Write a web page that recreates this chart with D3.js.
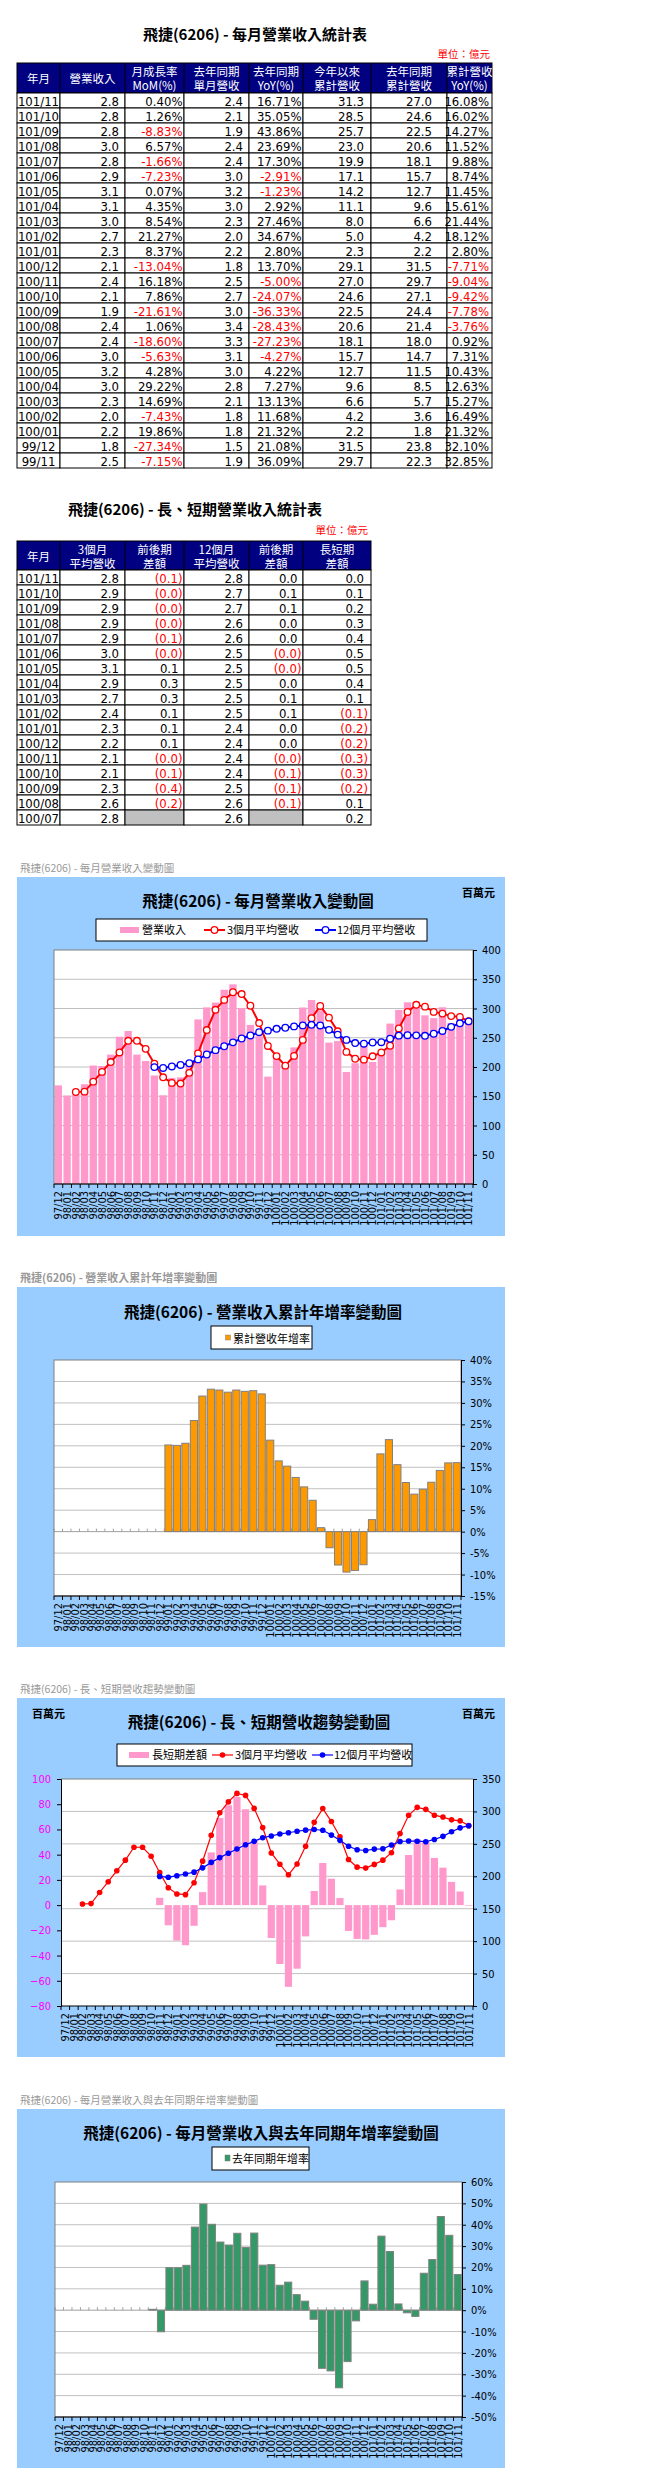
<!DOCTYPE html>
<html>
<head>
<meta charset="utf-8">
<script src="https://cdn.jsdelivr.net/npm/d3@7"></script>
<style>body{margin:0;background:#fff}</style>
</head>
<body>
<script>
// ---------- table 1 : 每月營業收入統計表 (億元)
var t1Month = ["101/11","101/10","101/09","101/08","101/07","101/06","101/05","101/04","101/03","101/02","101/01","100/12","100/11","100/10","100/09","100/08","100/07","100/06","100/05","100/04","100/03","100/02","100/01","99/12","99/11"];
var t1Rev = [2.8,2.8,2.8,3.0,2.8,2.9,3.1,3.1,3.0,2.7,2.3,2.1,2.4,2.1,1.9,2.4,2.4,3.0,3.2,3.0,2.3,2.0,2.2,1.8,2.5];
var t1Mom = [0.40,1.26,-8.83,6.57,-1.66,-7.23,0.07,4.35,8.54,21.27,8.37,-13.04,16.18,7.86,-21.61,1.06,-18.60,-5.63,4.28,29.22,14.69,-7.43,19.86,-27.34,-7.15];
var t1LyRev = [2.4,2.1,1.9,2.4,2.4,3.0,3.2,3.0,2.3,2.0,2.2,1.8,2.5,2.7,3.0,3.4,3.3,3.1,3.0,2.8,2.1,1.8,1.8,1.5,1.9];
var t1Yoy = [16.71,35.05,43.86,23.69,17.30,-2.91,-1.23,2.92,27.46,34.67,2.80,13.70,-5.00,-24.07,-36.33,-28.43,-27.23,-4.27,4.22,7.27,13.13,11.68,21.32,21.08,36.09];
var t1Cum = [31.3,28.5,25.7,23.0,19.9,17.1,14.2,11.1,8.0,5.0,2.3,29.1,27.0,24.6,22.5,20.6,18.1,15.7,12.7,9.6,6.6,4.2,2.2,31.5,29.7];
var t1LyCum = [27.0,24.6,22.5,20.6,18.1,15.7,12.7,9.6,6.6,4.2,2.2,31.5,29.7,27.1,24.4,21.4,18.0,14.7,11.5,8.5,5.7,3.6,1.8,23.8,22.3];
var t1CumYoy = [16.08,16.02,14.27,11.52,9.88,8.74,11.45,15.61,21.44,18.12,2.80,-7.71,-9.04,-9.42,-7.78,-3.76,0.92,7.31,10.43,12.63,15.27,16.49,21.32,32.10,32.85];

// ---------- table 2 : 長、短期營業收入統計表 (億元)
var t2Month = ["101/11","101/10","101/09","101/08","101/07","101/06","101/05","101/04","101/03","101/02","101/01","100/12","100/11","100/10","100/09","100/08","100/07"];
var t2Avg3 = [2.8,2.9,2.9,2.9,2.9,3.0,3.1,2.9,2.7,2.4,2.3,2.2,2.1,2.1,2.3,2.6,2.8];
var t2Avg3Diff = [-0.07,-0.01,-0.04,-0.03,-0.09,-0.03,0.12,0.28,0.30,0.11,0.07,0.06,-0.01,-0.12,-0.36,-0.23,null];
var t2Avg12 = [2.8,2.7,2.7,2.6,2.6,2.5,2.5,2.5,2.5,2.5,2.4,2.4,2.4,2.4,2.5,2.6,2.6];
var t2Avg12Diff = [0.03,0.06,0.07,0.04,0.03,-0.01,-0.01,0.01,0.06,0.06,0.01,0.02,-0.01,-0.06,-0.09,-0.08,null];
var t2LongShort = [0.00,0.11,0.18,0.30,0.37,0.50,0.52,0.40,0.12,-0.12,-0.18,-0.24,-0.27,-0.27,-0.21,0.06,0.21];

// ---------- chart series (百萬元 / %)
var months = ["97/12","98/01","98/02","98/03","98/04","98/05","98/06","98/07","98/08","98/09","98/10","98/11","98/12","99/01","99/02","99/03","99/04","99/05","99/06","99/07","99/08","99/09","99/10","99/11","99/12","100/01","100/02","100/03","100/04","100/05","100/06","100/07","100/08","100/09","100/10","100/11","100/12","101/01","101/02","101/03","101/04","101/05","101/06","101/07","101/08","101/09","101/10","101/11"];
var revenue = [168.6,151.2,152.0,170.6,202.5,201.7,221.2,251.8,261.5,221.2,210.2,185.5,151.6,181.3,182.3,206.4,281.3,301.9,310.1,332.1,341.3,300.8,272.0,252.5,183.5,219.9,203.6,233.5,301.7,314.6,296.9,241.7,244.3,191.5,206.5,239.9,208.6,226.1,274.2,297.6,310.6,310.8,288.3,283.5,302.1,275.4,278.9,280.0];
var avg3 = [null,null,157.3,157.9,175.0,191.6,208.5,224.9,244.8,244.8,231.0,205.6,182.4,172.8,171.7,190.0,223.3,263.2,297.8,314.7,327.8,324.7,304.7,275.1,236.0,218.6,202.3,219.0,246.3,283.3,304.4,284.4,261.0,225.8,214.1,212.6,218.3,224.9,236.3,266.0,294.1,306.3,303.2,294.2,291.3,287.0,285.5,278.1];
var avg12 = [null,null,null,null,null,null,null,null,null,null,null,199.8,198.4,200.9,203.5,206.4,213.0,221.4,228.8,235.5,242.1,248.7,253.9,259.5,262.1,265.3,267.1,269.4,271.1,272.1,271.0,263.5,255.4,246.3,240.9,239.8,241.9,242.4,248.3,253.6,254.4,254.1,253.3,256.8,261.6,268.6,274.7,278.0];
var gapLS = [null,null,null,null,null,null,null,null,null,null,null,5.8,-16.0,-28.1,-31.8,-16.4,10.3,41.8,69.0,79.2,85.7,76.0,50.8,15.6,-26.1,-46.7,-64.8,-50.4,-24.8,11.2,33.4,20.9,5.6,-20.5,-26.8,-27.2,-23.6,-17.5,-12.0,12.4,39.7,52.2,49.9,37.4,29.7,18.4,10.8,0.1];
var cumYoy = [null,null,null,null,null,null,null,null,null,null,null,null,null,20.2,20.1,20.6,25.9,31.6,33.2,33.0,32.5,33.0,32.7,32.85,32.10,21.32,16.49,15.27,12.63,10.43,7.31,0.92,-3.76,-7.78,-9.42,-9.04,-7.71,2.80,18.12,21.44,15.61,11.45,8.74,9.88,11.52,14.27,16.02,16.08];
var yoy = [null,null,null,null,null,null,null,null,null,null,null,0.4,-10.1,19.9,19.9,21.0,38.9,49.7,40.2,31.9,30.5,36.0,29.4,36.09,21.08,21.32,11.68,13.13,7.27,4.22,-4.27,-27.23,-28.43,-36.33,-24.07,-5.00,13.70,2.80,34.67,27.46,2.92,-1.23,-2.91,17.30,23.69,43.86,35.05,16.71];

var NUM = "'Liberation Sans Narrow','DejaVu Sans Condensed','Liberation Sans',sans-serif";
var CJK = "'Noto Sans CJK TC',sans-serif";
var MIX = "'Liberation Sans Narrow','Noto Sans CJK TC',sans-serif";

var svg = d3.select("body").append("svg")
    .attr("width", 655)
    .attr("height", 2491)
    .style("display", "block");

function label(g, x, y, s, size, anchor, weight, color, family) {
  return g.append("text")
      .attr("x", x).attr("y", y)
      .attr("text-anchor", anchor || "start")
      .attr("font-size", size)
      .attr("font-weight", weight || "normal")
      .attr("fill", color || "#000")
      .attr("font-family", family || MIX)
      .text(s);
}

function fmtNum(v) { return v.toFixed(1); }
function fmtPct(v) { return v.toFixed(2) + "%"; }
function fmtAcc(v) { return v < 0 ? "(" + Math.abs(v).toFixed(1) + ")" : v.toFixed(1); }

// generic table: edges = column borders, cols = column settings
function drawTable(top, headH, edges, heads, cols) {
  var g = svg.append("g");
  var left = edges[0], right = edges[edges.length - 1];
  g.append("rect")
      .attr("x", left).attr("y", top)
      .attr("width", right - left).attr("height", headH)
      .attr("fill", "#000080").attr("stroke", "#000");
  heads.forEach(function(h, i) {
    var cx = (edges[i] + edges[i + 1]) / 2;
    if (h.length == 1) {
      label(g, cx, top + 20, h[0], 11.5, "middle", "normal", "#fff", CJK);
    } else {
      label(g, cx, top + 12.5, h[0], 11.5, "middle", "normal", "#fff", CJK);
      label(g, cx, top + 27, h[1], 11.5, "middle", "normal", "#fff", CJK);
    }
    if (i > 0) {
      g.append("line").attr("x1", edges[i]).attr("x2", edges[i])
          .attr("y1", top).attr("y2", top + headH).attr("stroke", "#000");
    }
  });
  var y0 = top + headH;
  cols.forEach(function(col, ci) {
    var xa = edges[ci], xb = edges[ci + 1];
    g.selectAll(null).data(col.vals).enter().append("rect")
        .attr("x", xa)
        .attr("y", function(d, i) { return y0 + i * 15; })
        .attr("width", xb - xa).attr("height", 15)
        .attr("fill", function(d) { return d === null ? "#c0c0c0" : "#fff"; })
        .attr("stroke", "#000");
    g.selectAll(null).data(col.vals).enter().append("text")
        .attr("x", function(d) {
          if (col.center) return (xa + xb) / 2;
          return xb - (d < 0 && col.padNeg != null ? col.padNeg : col.pad);
        })
        .attr("y", function(d, i) { return y0 + i * 15 + 12.5; })
        .attr("text-anchor", col.center ? "middle" : "end")
        .attr("font-size", 13)
        .attr("font-family", NUM)
        .attr("fill", function(d) { return col.red && d < 0 ? "#ff0000" : "#000"; })
        .text(function(d) { return d === null ? "" : (col.fmt ? col.fmt(d) : d); });
  });
}

// ---- table 1
label(svg, 255, 40, "飛捷(6206) - 每月營業收入統計表", 15, "middle", "bold", "#000", CJK);
label(svg, 490, 58, "單位：億元", 10.5, "end", "normal", "#ff0000", CJK);
drawTable(63, 30, [17, 60, 125, 184, 249, 303, 371, 447, 492],
  [["年月"], ["營業收入"], ["月成長率", "MoM(%)"], ["去年同期", "單月營收"], ["去年同期", "YoY(%)"], ["今年以來", "累計營收"], ["去年同期", "累計營收"], ["累計營收", "YoY(%)"]],
  [{vals: t1Month, center: true},
   {vals: t1Rev, fmt: fmtNum, pad: 6},
   {vals: t1Mom, fmt: fmtPct, pad: 1.5, red: true},
   {vals: t1LyRev, fmt: fmtNum, pad: 6},
   {vals: t1Yoy, fmt: fmtPct, pad: 1.5, red: true},
   {vals: t1Cum, fmt: fmtNum, pad: 7},
   {vals: t1LyCum, fmt: fmtNum, pad: 15},
   {vals: t1CumYoy, fmt: fmtPct, pad: 3, red: true}]);

// ---- table 2
label(svg, 195, 515, "飛捷(6206) - 長、短期營業收入統計表", 15, "middle", "bold", "#000", CJK);
label(svg, 368, 534, "單位：億元", 10.5, "end", "normal", "#ff0000", CJK);
drawTable(541, 29, [17, 60, 125, 184, 249, 303, 371],
  [["年月"], ["3個月", "平均營收"], ["前後期", "差額"], ["12個月", "平均營收"], ["前後期", "差額"], ["長短期", "差額"]],
  [{vals: t2Month, center: true},
   {vals: t2Avg3, fmt: fmtNum, pad: 6},
   {vals: t2Avg3Diff, fmt: fmtAcc, pad: 5.5, padNeg: 1.5, red: true},
   {vals: t2Avg12, fmt: fmtNum, pad: 6},
   {vals: t2Avg12Diff, fmt: fmtAcc, pad: 5.5, padNeg: 1.5, red: true},
   {vals: t2LongShort, fmt: fmtAcc, pad: 7, padNeg: 3, red: true}]);

// ---------- chart helpers
function panel(y0, y1, caption, bold) {
  label(svg, 20, y0 - 5, caption, bold ? 11 : 10.5, "start", bold ? "bold" : "normal", "#999", CJK);
  svg.append("rect").attr("x", 17).attr("y", y0).attr("width", 488).attr("height", y1 - y0).attr("fill", "#99ccff");
  return svg.append("g");
}

function xScale(a, b) {
  return d3.scaleBand().domain(months).range([a, b]).paddingInner(0.16).paddingOuter(0.08);
}

function grid(g, x, y, vals) {
  g.selectAll(null).data(vals).enter().append("line")
      .attr("x1", x.range()[0]).attr("x2", x.range()[1])
      .attr("y1", function(d) { return y(d); }).attr("y2", function(d) { return y(d); })
      .attr("stroke", "#c0c0c0");
}

function bottomAxis(g, x, yb, tickDir) {
  var a = x.range()[0], b = x.range()[1], st = x.step();
  g.append("line").attr("x1", a).attr("x2", b).attr("y1", yb).attr("y2", yb).attr("stroke", "#000");
  g.selectAll(null).data(d3.range(months.length + 1)).enter().append("line")
      .attr("x1", function(i) { return a + i * st; }).attr("x2", function(i) { return a + i * st; })
      .attr("y1", yb).attr("y2", yb + 4).attr("stroke", "#000");
  g.selectAll(null).data(months).enter().append("text")
      .attr("transform", function(d) { return "translate(" + (x(d) + x.bandwidth() / 2) + "," + (yb + 7) + ") rotate(-90)"; })
      .attr("text-anchor", "end")
      .attr("dy", "0.35em")
      .attr("font-size", 11)
      .attr("font-family", NUM)
      .text(function(d) { return d; });
}

function zeroAxis(g, x, y0) {
  var a = x.range()[0], b = x.range()[1], st = x.step();
  g.append("line").attr("x1", a).attr("x2", b).attr("y1", y0).attr("y2", y0).attr("stroke", "#a0a0a0");
  g.selectAll(null).data(d3.range(months.length + 1)).enter().append("line")
      .attr("x1", function(i) { return a + i * st; }).attr("x2", function(i) { return a + i * st; })
      .attr("y1", y0 - 3).attr("y2", y0).attr("stroke", "#a0a0a0");
}

function styleAxis(ax, color) {
  ax.selectAll("text").attr("font-size", 11).attr("font-family", NUM).attr("fill", color || "#000");
  ax.selectAll("line,path").attr("stroke", "#000");
}

function pts(arr) {
  return arr.map(function(v, i) { return {m: months[i], v: v}; }).filter(function(d) { return d.v !== null; });
}

// ---------- chart 1 : 每月營業收入變動圖
var g1 = panel(877, 1236, "飛捷(6206) - 每月營業收入變動圖", false);
var x1 = xScale(54, 473);
var y1 = d3.scaleLinear().domain([0, 400]).range([1184, 950]);
label(g1, 258, 907, "飛捷(6206) - 每月營業收入變動圖", 15.5, "middle", "bold", "#000", CJK);
label(g1, 495, 897, "百萬元", 11, "end", "bold", "#000", CJK);
g1.append("rect").attr("x", 54).attr("y", 950).attr("width", 419).attr("height", 234).attr("fill", "#fff");
grid(g1, x1, y1, [50, 100, 150, 200, 250, 300, 350]);
g1.selectAll(null).data(pts(revenue)).enter().append("rect")
    .attr("x", function(d) { return x1(d.m); })
    .attr("y", function(d) { return y1(d.v); })
    .attr("width", x1.bandwidth())
    .attr("height", function(d) { return y1(0) - y1(d.v); })
    .attr("fill", "#ff99cc");
[[avg3, "#ff0000"], [avg12, "#0000ff"]].forEach(function(s) {
  var line = d3.line()
      .x(function(d) { return x1(d.m) + x1.bandwidth() / 2; })
      .y(function(d) { return y1(d.v); });
  g1.append("path").datum(pts(s[0])).attr("d", line).attr("fill", "none").attr("stroke", s[1]).attr("stroke-width", 2);
  g1.selectAll(null).data(pts(s[0])).enter().append("circle")
      .attr("cx", function(d) { return x1(d.m) + x1.bandwidth() / 2; })
      .attr("cy", function(d) { return y1(d.v); })
      .attr("r", 3.3).attr("fill", "#fff").attr("stroke", s[1]).attr("stroke-width", 1.3);
});
g1.append("rect").attr("x", 54).attr("y", 950).attr("width", 419).attr("height", 234).attr("fill", "none").attr("stroke", "#808080");
styleAxis(g1.append("g").attr("transform", "translate(473,0)")
    .call(d3.axisRight(y1).tickValues(d3.range(0, 401, 50)).tickSize(4).tickPadding(5)));
bottomAxis(g1, x1, 1184);
// legend
g1.append("rect").attr("x", 96).attr("y", 919).attr("width", 331).attr("height", 22).attr("fill", "#fff").attr("stroke", "#000");
g1.append("rect").attr("x", 120).attr("y", 927).attr("width", 19).attr("height", 6).attr("fill", "#ff99cc");
label(g1, 142, 934, "營業收入", 11, "start", "normal", "#000", MIX);
g1.append("line").attr("x1", 204).attr("x2", 225).attr("y1", 930).attr("y2", 930).attr("stroke", "#ff0000").attr("stroke-width", 2);
g1.append("circle").attr("cx", 214.5).attr("cy", 930).attr("r", 3.3).attr("fill", "#fff").attr("stroke", "#ff0000").attr("stroke-width", 1.3);
label(g1, 227, 934, "3個月平均營收", 11, "start", "normal", "#000", MIX);
g1.append("line").attr("x1", 315).attr("x2", 336).attr("y1", 930).attr("y2", 930).attr("stroke", "#0000ff").attr("stroke-width", 2);
g1.append("circle").attr("cx", 325.5).attr("cy", 930).attr("r", 3.3).attr("fill", "#fff").attr("stroke", "#0000ff").attr("stroke-width", 1.3);
label(g1, 337, 934, "12個月平均營收", 11, "start", "normal", "#000", MIX);

// ---------- chart 2 : 營業收入累計年增率變動圖
var g2 = panel(1287, 1647, "飛捷(6206) -  營業收入累計年增率變動圖", true);
var x2 = xScale(54, 461);
var y2 = d3.scaleLinear().domain([-15, 40]).range([1596, 1360]);
label(g2, 263, 1318, "飛捷(6206) -  營業收入累計年增率變動圖", 15.5, "middle", "bold", "#000", CJK);
g2.append("rect").attr("x", 54).attr("y", 1360).attr("width", 407).attr("height", 236).attr("fill", "#fff");
grid(g2, x2, y2, [-10, -5, 5, 10, 15, 20, 25, 30, 35]);
zeroAxis(g2, x2, y2(0));
g2.selectAll(null).data(pts(cumYoy)).enter().append("rect")
    .attr("x", function(d) { return x2(d.m); })
    .attr("y", function(d) { return y2(Math.max(0, d.v)); })
    .attr("width", x2.bandwidth())
    .attr("height", function(d) { return Math.abs(y2(d.v) - y2(0)); })
    .attr("fill", "#ff9900").attr("stroke", "#808080");
g2.append("rect").attr("x", 54).attr("y", 1360).attr("width", 407).attr("height", 236).attr("fill", "none").attr("stroke", "#808080");
styleAxis(g2.append("g").attr("transform", "translate(461,0)")
    .call(d3.axisRight(y2).tickValues(d3.range(-15, 41, 5)).tickSize(4).tickPadding(5).tickFormat(function(d) { return d + "%"; })));
bottomAxis(g2, x2, 1596);
g2.append("rect").attr("x", 211).attr("y", 1326).attr("width", 101).attr("height", 23).attr("fill", "#fff").attr("stroke", "#000");
g2.append("rect").attr("x", 225.5).attr("y", 1335).attr("width", 5).attr("height", 5).attr("fill", "#ff9900").attr("stroke", "#808080").attr("stroke-width", 0.5);
label(g2, 233, 1343, "累計營收年增率", 11, "start", "normal", "#000", MIX);

// ---------- chart 3 : 長、短期營收趨勢變動圖
var g3 = panel(1698, 2057, "飛捷(6206) -  長、短期營收趨勢變動圖", false);
var x3 = xScale(61, 473);
var yL = d3.scaleLinear().domain([-80, 100]).range([2006, 1779]);
var yR = d3.scaleLinear().domain([0, 350]).range([2006, 1779]);
label(g3, 259, 1728, "飛捷(6206) -  長、短期營收趨勢變動圖", 15.5, "middle", "bold", "#000", CJK);
label(g3, 32, 1718, "百萬元", 11, "start", "bold", "#000", CJK);
label(g3, 495, 1718, "百萬元", 11, "end", "bold", "#000", CJK);
g3.append("rect").attr("x", 61).attr("y", 1779).attr("width", 412).attr("height", 227).attr("fill", "#fff");
grid(g3, x3, yR, [50, 100, 150, 200, 250, 300]);
g3.selectAll(null).data(pts(gapLS)).enter().append("rect")
    .attr("x", function(d) { return x3(d.m); })
    .attr("y", function(d) { return yL(Math.max(0, d.v)); })
    .attr("width", x3.bandwidth())
    .attr("height", function(d) { return Math.max(0.6, Math.abs(yL(d.v) - yL(0))); })
    .attr("fill", "#ff99cc");
[[avg3, "#ff0000"], [avg12, "#0000ff"]].forEach(function(s) {
  var line = d3.line()
      .x(function(d) { return x3(d.m) + x3.bandwidth() / 2; })
      .y(function(d) { return yR(d.v); });
  g3.append("path").datum(pts(s[0])).attr("d", line).attr("fill", "none").attr("stroke", s[1]).attr("stroke-width", 1.2);
  g3.selectAll(null).data(pts(s[0])).enter().append("circle")
      .attr("cx", function(d) { return x3(d.m) + x3.bandwidth() / 2; })
      .attr("cy", function(d) { return yR(d.v); })
      .attr("r", 2.8).attr("fill", s[1]);
});
g3.append("line").attr("x1", 61).attr("x2", 473).attr("y1", 1779).attr("y2", 1779).attr("stroke", "#808080");
styleAxis(g3.append("g").attr("transform", "translate(61,0)")
    .call(d3.axisLeft(yL).tickValues(d3.range(-80, 101, 20)).tickSize(4).tickPadding(6)), "#ff00ff");
styleAxis(g3.append("g").attr("transform", "translate(473,0)")
    .call(d3.axisRight(yR).tickValues(d3.range(0, 351, 50)).tickSize(4).tickPadding(5)));
bottomAxis(g3, x3, 2006);
g3.append("rect").attr("x", 117).attr("y", 1744).attr("width", 295).attr("height", 22).attr("fill", "#fff").attr("stroke", "#000");
g3.append("rect").attr("x", 129).attr("y", 1752).attr("width", 20).attr("height", 6).attr("fill", "#ff99cc");
label(g3, 152, 1759, "長短期差額", 11, "start", "normal", "#000", MIX);
g3.append("line").attr("x1", 212).attr("x2", 233).attr("y1", 1755).attr("y2", 1755).attr("stroke", "#ff0000").attr("stroke-width", 1.2);
g3.append("circle").attr("cx", 222.5).attr("cy", 1755).attr("r", 2.8).attr("fill", "#ff0000");
label(g3, 235, 1759, "3個月平均營收", 11, "start", "normal", "#000", MIX);
g3.append("line").attr("x1", 312).attr("x2", 333).attr("y1", 1755).attr("y2", 1755).attr("stroke", "#0000ff").attr("stroke-width", 1.2);
g3.append("circle").attr("cx", 322.5).attr("cy", 1755).attr("r", 2.8).attr("fill", "#0000ff");
label(g3, 334, 1759, "12個月平均營收", 11, "start", "normal", "#000", MIX);

// ---------- chart 4 : 每月營業收入與去年同期年增率變動圖
var g4 = panel(2109, 2468, "飛捷(6206) -  每月營業收入與去年同期年增率變動圖", false);
var x4 = xScale(55, 462);
var y4 = d3.scaleLinear().domain([-50, 60]).range([2417, 2182]);
label(g4, 261, 2139, "飛捷(6206) -  每月營業收入與去年同期年增率變動圖", 15.5, "middle", "bold", "#000", CJK);
g4.append("rect").attr("x", 55).attr("y", 2182).attr("width", 407).attr("height", 235).attr("fill", "#fff");
grid(g4, x4, y4, [-40, -30, -20, -10, 10, 20, 30, 40, 50]);
zeroAxis(g4, x4, y4(0));
g4.selectAll(null).data(pts(yoy)).enter().append("rect")
    .attr("x", function(d) { return x4(d.m); })
    .attr("y", function(d) { return y4(Math.max(0, d.v)); })
    .attr("width", x4.bandwidth())
    .attr("height", function(d) { return Math.abs(y4(d.v) - y4(0)); })
    .attr("fill", "#339966").attr("stroke", "#808080");
g4.append("rect").attr("x", 55).attr("y", 2182).attr("width", 407).attr("height", 235).attr("fill", "none").attr("stroke", "#808080");
styleAxis(g4.append("g").attr("transform", "translate(462,0)")
    .call(d3.axisRight(y4).tickValues(d3.range(-50, 61, 10)).tickSize(4).tickPadding(5).tickFormat(function(d) { return d + "%"; })));
bottomAxis(g4, x4, 2417);
g4.append("rect").attr("x", 212).attr("y", 2147).attr("width", 97).attr("height", 23).attr("fill", "#fff").attr("stroke", "#000");
g4.append("rect").attr("x", 225).attr("y", 2155).attr("width", 5).attr("height", 6).attr("fill", "#339966").attr("stroke", "#808080").attr("stroke-width", 0.5);
label(g4, 232, 2163, "去年同期年增率", 11, "start", "normal", "#000", MIX);
</script>
</body>
</html>
